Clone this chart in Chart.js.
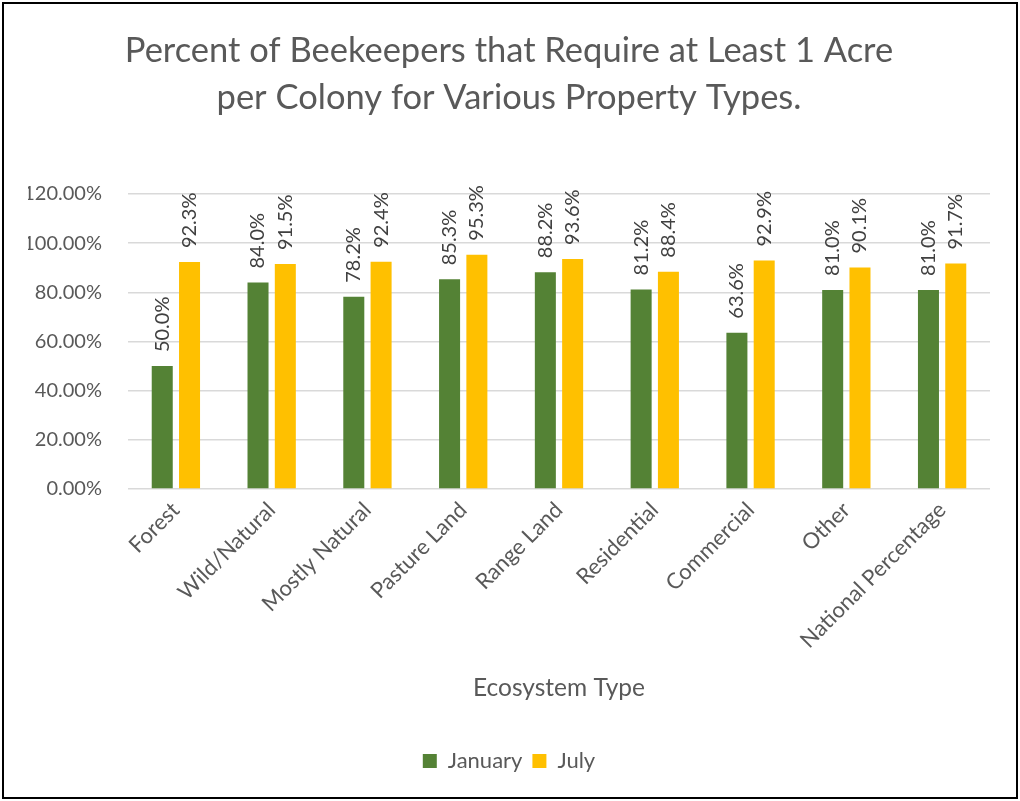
<!DOCTYPE html>
<html>
<head>
<meta charset="utf-8">
<script src="https://cdn.jsdelivr.net/npm/chart.js@4/dist/chart.umd.min.js"></script>
<style>
html,body{margin:0;padding:0;background:#fff;}
#wrap{position:relative;width:1020px;height:801px;}
</style>
</head>
<body>
<div id="wrap"><canvas id="c" width="1020" height="801"></canvas></div>
<script>
const chartTitle = ["Percent of Beekeepers that Require at Least 1 Acre", "per Colony for Various Property Types."];
const categories = ["Forest", "Wild/Natural", "Mostly Natural", "Pasture Land", "Range Land", "Residential", "Commercial", "Other", "National Percentage"];
const januaryValues = [50.0, 84.0, 78.2, 85.3, 88.2, 81.2, 63.6, 81.0, 81.0];
const julyValues = [92.3, 91.5, 92.4, 95.3, 93.6, 88.4, 92.9, 90.1, 91.7];
const seriesNames = ["January", "July"];
const xAxisTitle = "Ecosystem Type";
const yTickMin = 0, yTickMax = 120, yTickStep = 20;

const FONT = "Lato";
const TEXT = "#595959";

const borderPlugin = {
  id: 'outerBorder',
  beforeDraw(chart) {
    const ctx = chart.ctx;
    ctx.save();
    ctx.fillStyle = '#fff';
    ctx.fillRect(0, 0, chart.width, chart.height);
    ctx.strokeStyle = '#000';
    ctx.lineWidth = 2;
    ctx.strokeRect(3, 3, chart.width - 6, chart.height - 6);
    ctx.restore();
  }
};

const labelPlugin = {
  id: 'barLabels',
  afterDatasetsDraw(chart) {
    const ctx = chart.ctx;
    ctx.save();
    ctx.font = '20px ' + FONT;
    ctx.fillStyle = '#404040';
    ctx.textAlign = 'left';
    ctx.textBaseline = 'middle';
    chart.data.datasets.forEach((ds, i) => {
      const meta = chart.getDatasetMeta(i);
      meta.data.forEach((bar, j) => {
        const v = ds.data[j];
        ctx.save();
        ctx.translate(bar.x, bar.y - 14);
        ctx.rotate(-Math.PI / 2);
        ctx.fillText(v.toFixed(1) + '%', 0, 0);
        ctx.restore();
      });
    });
    ctx.restore();
  }
};

new Chart(document.getElementById('c'), {
  type: 'bar',
  data: {
    labels: categories,
    datasets: [
      { label: seriesNames[0], data: januaryValues, backgroundColor: '#548235', categoryPercentage: 0.57, barPercentage: 0.77 },
      { label: seriesNames[1], data: julyValues, backgroundColor: '#FFC000', categoryPercentage: 0.57, barPercentage: 0.77 }
    ]
  },
  options: {
    responsive: false,
    animation: false,
    devicePixelRatio: 1,
    layout: { padding: { left: 28, right: 30, top: 0, bottom: 19 } },
    plugins: {
      title: {
        display: true,
        text: chartTitle,
        color: TEXT,
        font: { family: FONT, size: 34.5, weight: 'normal', lineHeight: 47/34.5 },
        padding: { top: 27, bottom: 73 }
      },
      legend: {
        position: 'bottom',
        labels: {
          color: TEXT,
          font: { family: FONT, size: 22 },
          boxWidth: 14,
          boxHeight: 14,
          padding: 10
        }
      },
      tooltip: { enabled: false }
    },
    scales: {
      x: {
        grid: { display: false, drawTicks: false },
        border: { display: false },
        ticks: {
          color: TEXT,
          font: { family: FONT, size: 22 },
          minRotation: 45,
          maxRotation: 45,
          padding: 8,
          autoSkip: false
        },
        title: {
          display: true,
          text: xAxisTitle,
          color: TEXT,
          font: { family: FONT, size: 24.5 },
          padding: { top: 0, bottom: 37 }
        },
        afterFit(s) { s.height = 251; }
      },
      y: {
        min: yTickMin,
        max: yTickMax,
        grid: { color: '#D9D9D9', lineWidth: 1.5, drawTicks: false },
        border: { display: false },
        ticks: {
          stepSize: yTickStep,
          color: TEXT,
          font: { family: FONT, size: 20 },
          padding: 26,
          callback: v => v.toFixed(2) + '%'
        },
        afterFit(s) { s.width = 100; }
      }
    }
  },
  plugins: [borderPlugin, labelPlugin]
});
</script>
</body>
</html>
